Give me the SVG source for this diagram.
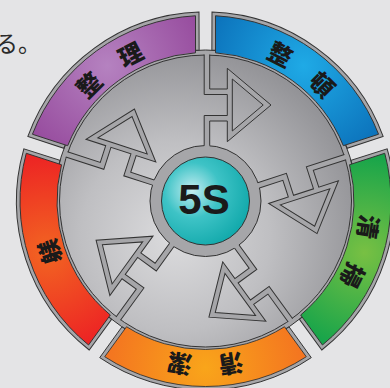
<svg xmlns="http://www.w3.org/2000/svg" xmlns:xlink="http://www.w3.org/1999/xlink" width="390" height="388" viewBox="0 0 390 388">
<style>
.bd{fill:#a6a6a9;stroke:#333;stroke-width:1}
.seg{stroke:#333;stroke-width:0.9}
.ch{font-family:"Noto Sans CJK JP","Noto Sans CJK SC",sans-serif;font-weight:900;font-size:24px;fill:#1a1a1a;text-anchor:middle;dominant-baseline:central}
.af{fill:#a6a6a9;fill-rule:evenodd;stroke:none}
.as{fill:none;stroke:#333;stroke-width:1;stroke-linejoin:miter}
</style>
<defs>
<radialGradient id="gP" gradientUnits="userSpaceOnUse" cx="0" cy="-167" r="110"><stop offset="0" stop-color="#b582c0"/><stop offset="1" stop-color="#94479b"/></radialGradient>
<radialGradient id="gB" gradientUnits="userSpaceOnUse" cx="0" cy="-167" r="110"><stop offset="0" stop-color="#1faae6"/><stop offset="1" stop-color="#0a6db7"/></radialGradient>
<radialGradient id="gG" gradientUnits="userSpaceOnUse" cx="0" cy="-167" r="110"><stop offset="0" stop-color="#78c043"/><stop offset="1" stop-color="#0ba14b"/></radialGradient>
<radialGradient id="gO" gradientUnits="userSpaceOnUse" cx="0" cy="-167" r="110"><stop offset="0" stop-color="#f9a51a"/><stop offset="1" stop-color="#f36f21"/></radialGradient>
<radialGradient id="gR" gradientUnits="userSpaceOnUse" cx="0" cy="-167" r="110"><stop offset="0" stop-color="#f26522"/><stop offset="1" stop-color="#ec1c24"/></radialGradient>
<radialGradient id="gDisc" gradientUnits="userSpaceOnUse" cx="-30" cy="35" r="190"><stop offset="0" stop-color="#dcdcde"/><stop offset="0.5" stop-color="#bfbfc2"/><stop offset="1" stop-color="#939397"/></radialGradient>
<radialGradient id="gTeal" cx="0.35" cy="0.38" r="0.7"><stop offset="0" stop-color="#c4edf1"/><stop offset="0.45" stop-color="#3ec3c6"/><stop offset="1" stop-color="#10a8aa"/></radialGradient>
<path id="border" class="bd" d="M -105.77,-156.63 A 189 189 0 0 1 105.77,-156.63 L 83.6,-125.9 A 151 151 0 0 0 -83.6,-125.9 Z"/>
<path id="sector" d="M -100.79,-155.73 A 185.5 185.5 0 0 1 100.79,-155.73 L 79.00,-125.74 A 148.5 148.5 0 0 0 -79.00,-125.74 Z"/>
<g id="arrow">
<path class="af" d="M -1.3,-150 L -1.3,-106.5 L 21.8,-106.5 L 21.8,-85.5 L -1.3,-85.5 L -1.3,-51 L 4.2,-51 L 4.2,-80 L 21.8,-80 L 21.8,-59.3 L 65.5,-96 L 21.8,-132.7 L 21.8,-112 L 4.2,-112 L 4.2,-150 Z M 26.8,-122 L 57.7,-96 L 26.8,-70 Z"/>
<path class="as" d="M -1.3,-146.5 L -1.3,-106.5 L 21.8,-106.5 L 21.8,-85.5 L -1.3,-85.5 L -1.3,-55.3 M 4.2,-55.3 L 4.2,-80 L 21.8,-80 L 21.8,-59.3 L 65.5,-96 L 21.8,-132.7 L 21.8,-112 L 4.2,-112 L 4.2,-146.5 M 26.8,-122 L 57.7,-96 L 26.8,-70 Z"/>
</g>
</defs>
<rect width="390" height="388" fill="#e4e4e6"/>
<text x="-5" y="52" font-family="Noto Sans CJK JP, sans-serif" font-size="23" fill="#2a2a2a">る。</text>
<circle cx="205.5" cy="201" r="151" fill="#a6a6a9" stroke="#333" stroke-width="1"/>
<g id="seiri" transform="translate(205.5,201) rotate(-36)">
<use xlink:href="#border"/>
<use xlink:href="#sector" class="seg" fill="url(#gP)"/>
<text class="ch" x="-25.9" y="-164" transform="rotate(-9 -25.9 -164)">整</text>
<text class="ch" x="25.9" y="-164" transform="rotate(9 25.9 -164)">理</text>
</g>
<g id="seiton" transform="translate(205.5,201) rotate(36)">
<use xlink:href="#border"/>
<use xlink:href="#sector" class="seg" fill="url(#gB)"/>
<text class="ch" x="-25.9" y="-164" transform="rotate(-9 -25.9 -164)">整</text>
<text class="ch" x="25.9" y="-164" transform="rotate(9 25.9 -164)">頓</text>
</g>
<g id="seiso" transform="translate(205.5,201) rotate(108)">
<use xlink:href="#border"/>
<use xlink:href="#sector" class="seg" fill="url(#gG)"/>
<text class="ch" x="-25.9" y="-164" transform="rotate(-9 -25.9 -164)">清</text>
<text class="ch" x="25.9" y="-164" transform="rotate(9 25.9 -164)">掃</text>
</g>
<g id="seiketsu" transform="translate(205.5,201) rotate(180)">
<use xlink:href="#border"/>
<use xlink:href="#sector" class="seg" fill="url(#gO)"/>
<text class="ch" x="-25.9" y="-164" transform="rotate(-9 -25.9 -164)">清</text>
<text class="ch" x="25.9" y="-164" transform="rotate(9 25.9 -164)">潔</text>
</g>
<g id="shitsuke" transform="translate(205.5,201) rotate(252)">
<use xlink:href="#border"/>
<use xlink:href="#sector" class="seg" fill="url(#gR)"/>
<text class="ch" x="0" y="-165">躾</text>
</g>
<g id="disc" transform="translate(205.5,201)">
<circle r="146" fill="url(#gDisc)" stroke="#333" stroke-width="1"/>
</g>
<g id="center-5s" transform="translate(205.5,201)">
<circle r="55.5" fill="#a6a6a9" stroke="#333" stroke-width="1"/>
<circle r="44" fill="url(#gTeal)" stroke="#333" stroke-width="1"/>
<text x="-1.5" y="12.5" font-family="Liberation Sans, Arial, sans-serif" font-weight="bold" font-size="42" fill="#1a1a1a" text-anchor="middle">5S</text>
</g>
<g id="connectors" transform="translate(205.5,201)">
<use xlink:href="#arrow"/>
<use xlink:href="#arrow" transform="rotate(72)"/>
<use xlink:href="#arrow" transform="rotate(144)"/>
<use xlink:href="#arrow" transform="rotate(216)"/>
<use xlink:href="#arrow" transform="rotate(288)"/>
</g>
</svg>
